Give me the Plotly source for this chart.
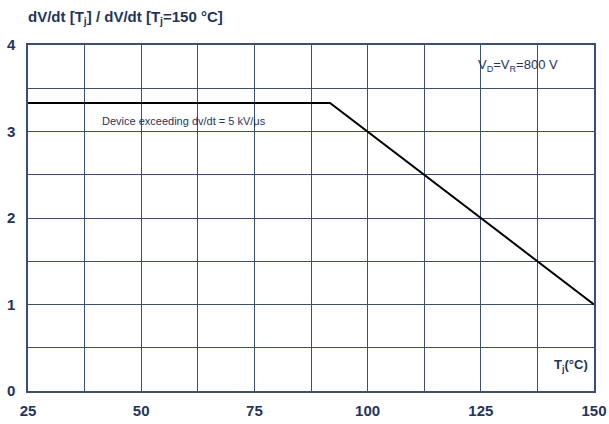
import plotly.graph_objects as go

tj = [25, 91.7, 150]
ratio = [3.33, 3.33, 1.0]
x_ticks = [25, 50, 75, 100, 125, 150]
y_ticks = [0, 1, 2, 3, 4]

navy = "#1f3560"
grid = "#3a4e78"

fig = go.Figure()
fig.add_trace(go.Scatter(x=tj, y=ratio, mode="lines",
                         line=dict(color="black", width=2), showlegend=False))

tickfont = dict(size=15, color=navy, family="Liberation Sans, Arial")
fig.update_layout(
    width=609, height=424,
    margin=dict(l=28, r=15, t=45, b=33),
    paper_bgcolor="white", plot_bgcolor="white",
    font=dict(family="Liberation Sans, Arial", color=navy, size=12),
    xaxis=dict(range=[25, 150], tickvals=x_ticks, ticktext=[f"<b>{v}</b>" for v in x_ticks],
               showgrid=True, gridcolor=grid, gridwidth=1, automargin=False,
               showline=True, linecolor=grid, linewidth=1.5, mirror=True,
               tickfont=tickfont, ticklabelstandoff=5,
               ticks="", zeroline=False, fixedrange=True),
    yaxis=dict(range=[0, 4], tickvals=y_ticks, ticktext=[f"<b>{v}</b>" for v in y_ticks],
               automargin=False,
               showgrid=True, gridcolor=grid, gridwidth=1,
               showline=True, linecolor=grid, linewidth=1.5, mirror=True,
               tickfont=tickfont, ticklabelstandoff=8,
               ticks="", zeroline=False, fixedrange=True),
)

fig.update_xaxes(minor=dict(tickvals=[37.5, 62.5, 87.5, 112.5, 137.5], showgrid=True,
                            gridcolor=grid, gridwidth=1))
fig.update_yaxes(minor=dict(tickvals=[0.5, 1.5, 2.5, 3.5], showgrid=True,
                            gridcolor=grid, gridwidth=1))

fig.add_annotation(xref="paper", yref="paper", x=-0.004, y=1, xanchor="left", yanchor="middle",
                   yshift=28, text="<b>dV/dt [T<sub>j</sub>] / dV/dt [T<sub>j</sub>=150 °C]</b>",
                   showarrow=False, font=dict(size=15, color=navy))
fig.add_annotation(x=40.9, y=3.12, xanchor="left", yanchor="middle",
                   text="Device exceeding dv/dt = 5 kV/μs", showarrow=False,
                   font=dict(size=11, color=navy))
fig.add_annotation(x=142.5, y=3.76, xanchor="right", yanchor="middle",
                   text="V<sub>D</sub>=V<sub>R</sub>=800 V", showarrow=False,
                   font=dict(size=13, color=navy))
fig.add_annotation(x=149.2, y=0.29, xanchor="right", yanchor="middle",
                   text="<b>T<sub>j</sub>(°C)</b>", showarrow=False,
                   font=dict(size=13, color=navy))

fig.write_html("out.html")
